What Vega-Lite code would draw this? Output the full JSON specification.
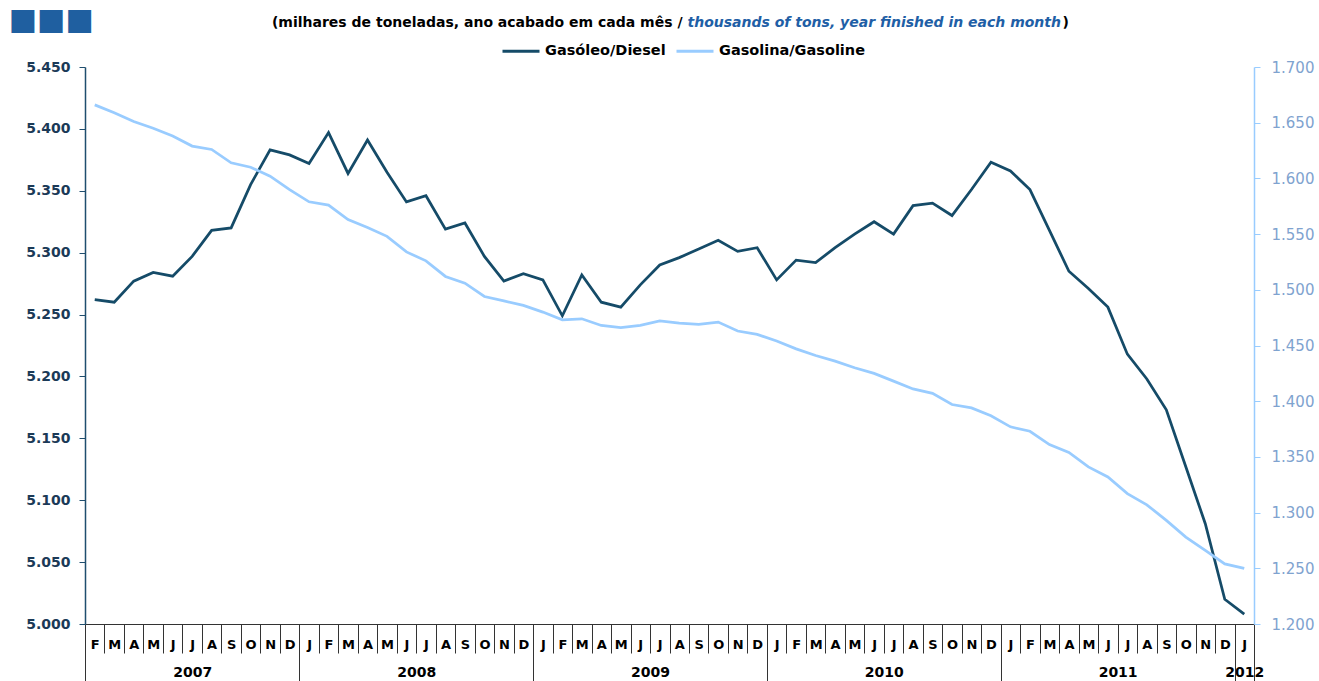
{
  "$schema": "https://vega.github.io/schema/vega-lite/v6.json",
  "width": 1169,
  "height": 557,
  "autosize": "none",
  "padding": {"left": 85, "top": 67, "right": 65, "bottom": 57},
  "background": "white",
  "config": {
    "view": {"stroke": null},
    "font": "DejaVu Sans",
    "locale": {"number": {"decimal": ",", "thousands": ".", "grouping": [3], "currency": ["", " €"]}}
  },
  "data": {
    "values": [
      {"date": "2007-02", "series": "Gasóleo/Diesel", "value": 5262},
      {"date": "2007-03", "series": "Gasóleo/Diesel", "value": 5260},
      {"date": "2007-04", "series": "Gasóleo/Diesel", "value": 5277},
      {"date": "2007-05", "series": "Gasóleo/Diesel", "value": 5284},
      {"date": "2007-06", "series": "Gasóleo/Diesel", "value": 5281},
      {"date": "2007-07", "series": "Gasóleo/Diesel", "value": 5297},
      {"date": "2007-08", "series": "Gasóleo/Diesel", "value": 5318},
      {"date": "2007-09", "series": "Gasóleo/Diesel", "value": 5320},
      {"date": "2007-10", "series": "Gasóleo/Diesel", "value": 5355},
      {"date": "2007-11", "series": "Gasóleo/Diesel", "value": 5383},
      {"date": "2007-12", "series": "Gasóleo/Diesel", "value": 5379},
      {"date": "2008-01", "series": "Gasóleo/Diesel", "value": 5372},
      {"date": "2008-02", "series": "Gasóleo/Diesel", "value": 5397},
      {"date": "2008-03", "series": "Gasóleo/Diesel", "value": 5364},
      {"date": "2008-04", "series": "Gasóleo/Diesel", "value": 5391},
      {"date": "2008-05", "series": "Gasóleo/Diesel", "value": 5365},
      {"date": "2008-06", "series": "Gasóleo/Diesel", "value": 5341},
      {"date": "2008-07", "series": "Gasóleo/Diesel", "value": 5346},
      {"date": "2008-08", "series": "Gasóleo/Diesel", "value": 5319},
      {"date": "2008-09", "series": "Gasóleo/Diesel", "value": 5324},
      {"date": "2008-10", "series": "Gasóleo/Diesel", "value": 5297},
      {"date": "2008-11", "series": "Gasóleo/Diesel", "value": 5277},
      {"date": "2008-12", "series": "Gasóleo/Diesel", "value": 5283},
      {"date": "2009-01", "series": "Gasóleo/Diesel", "value": 5278},
      {"date": "2009-02", "series": "Gasóleo/Diesel", "value": 5249},
      {"date": "2009-03", "series": "Gasóleo/Diesel", "value": 5282},
      {"date": "2009-04", "series": "Gasóleo/Diesel", "value": 5260},
      {"date": "2009-05", "series": "Gasóleo/Diesel", "value": 5256},
      {"date": "2009-06", "series": "Gasóleo/Diesel", "value": 5274},
      {"date": "2009-07", "series": "Gasóleo/Diesel", "value": 5290},
      {"date": "2009-08", "series": "Gasóleo/Diesel", "value": 5296},
      {"date": "2009-09", "series": "Gasóleo/Diesel", "value": 5303},
      {"date": "2009-10", "series": "Gasóleo/Diesel", "value": 5310},
      {"date": "2009-11", "series": "Gasóleo/Diesel", "value": 5301},
      {"date": "2009-12", "series": "Gasóleo/Diesel", "value": 5304},
      {"date": "2010-01", "series": "Gasóleo/Diesel", "value": 5278},
      {"date": "2010-02", "series": "Gasóleo/Diesel", "value": 5294},
      {"date": "2010-03", "series": "Gasóleo/Diesel", "value": 5292},
      {"date": "2010-04", "series": "Gasóleo/Diesel", "value": 5304},
      {"date": "2010-05", "series": "Gasóleo/Diesel", "value": 5315},
      {"date": "2010-06", "series": "Gasóleo/Diesel", "value": 5325},
      {"date": "2010-07", "series": "Gasóleo/Diesel", "value": 5315},
      {"date": "2010-08", "series": "Gasóleo/Diesel", "value": 5338},
      {"date": "2010-09", "series": "Gasóleo/Diesel", "value": 5340},
      {"date": "2010-10", "series": "Gasóleo/Diesel", "value": 5330},
      {"date": "2010-11", "series": "Gasóleo/Diesel", "value": 5351},
      {"date": "2010-12", "series": "Gasóleo/Diesel", "value": 5373},
      {"date": "2011-01", "series": "Gasóleo/Diesel", "value": 5366},
      {"date": "2011-02", "series": "Gasóleo/Diesel", "value": 5351},
      {"date": "2011-03", "series": "Gasóleo/Diesel", "value": 5318},
      {"date": "2011-04", "series": "Gasóleo/Diesel", "value": 5285},
      {"date": "2011-05", "series": "Gasóleo/Diesel", "value": 5271},
      {"date": "2011-06", "series": "Gasóleo/Diesel", "value": 5256},
      {"date": "2011-07", "series": "Gasóleo/Diesel", "value": 5218},
      {"date": "2011-08", "series": "Gasóleo/Diesel", "value": 5198},
      {"date": "2011-09", "series": "Gasóleo/Diesel", "value": 5173},
      {"date": "2011-10", "series": "Gasóleo/Diesel", "value": 5127},
      {"date": "2011-11", "series": "Gasóleo/Diesel", "value": 5081},
      {"date": "2011-12", "series": "Gasóleo/Diesel", "value": 5020},
      {"date": "2012-01", "series": "Gasóleo/Diesel", "value": 5008},
      {"date": "2007-02", "series": "Gasolina/Gasoline", "value": 1666},
      {"date": "2007-03", "series": "Gasolina/Gasoline", "value": 1659},
      {"date": "2007-04", "series": "Gasolina/Gasoline", "value": 1651},
      {"date": "2007-05", "series": "Gasolina/Gasoline", "value": 1645},
      {"date": "2007-06", "series": "Gasolina/Gasoline", "value": 1638},
      {"date": "2007-07", "series": "Gasolina/Gasoline", "value": 1629},
      {"date": "2007-08", "series": "Gasolina/Gasoline", "value": 1626},
      {"date": "2007-09", "series": "Gasolina/Gasoline", "value": 1614},
      {"date": "2007-10", "series": "Gasolina/Gasoline", "value": 1610},
      {"date": "2007-11", "series": "Gasolina/Gasoline", "value": 1602},
      {"date": "2007-12", "series": "Gasolina/Gasoline", "value": 1590},
      {"date": "2008-01", "series": "Gasolina/Gasoline", "value": 1579},
      {"date": "2008-02", "series": "Gasolina/Gasoline", "value": 1576},
      {"date": "2008-03", "series": "Gasolina/Gasoline", "value": 1563},
      {"date": "2008-04", "series": "Gasolina/Gasoline", "value": 1556},
      {"date": "2008-05", "series": "Gasolina/Gasoline", "value": 1548},
      {"date": "2008-06", "series": "Gasolina/Gasoline", "value": 1534},
      {"date": "2008-07", "series": "Gasolina/Gasoline", "value": 1526},
      {"date": "2008-08", "series": "Gasolina/Gasoline", "value": 1512},
      {"date": "2008-09", "series": "Gasolina/Gasoline", "value": 1506},
      {"date": "2008-10", "series": "Gasolina/Gasoline", "value": 1494},
      {"date": "2008-11", "series": "Gasolina/Gasoline", "value": 1490},
      {"date": "2008-12", "series": "Gasolina/Gasoline", "value": 1486},
      {"date": "2009-01", "series": "Gasolina/Gasoline", "value": 1480},
      {"date": "2009-02", "series": "Gasolina/Gasoline", "value": 1473},
      {"date": "2009-03", "series": "Gasolina/Gasoline", "value": 1474},
      {"date": "2009-04", "series": "Gasolina/Gasoline", "value": 1468},
      {"date": "2009-05", "series": "Gasolina/Gasoline", "value": 1466},
      {"date": "2009-06", "series": "Gasolina/Gasoline", "value": 1468},
      {"date": "2009-07", "series": "Gasolina/Gasoline", "value": 1472},
      {"date": "2009-08", "series": "Gasolina/Gasoline", "value": 1470},
      {"date": "2009-09", "series": "Gasolina/Gasoline", "value": 1469},
      {"date": "2009-10", "series": "Gasolina/Gasoline", "value": 1471},
      {"date": "2009-11", "series": "Gasolina/Gasoline", "value": 1463},
      {"date": "2009-12", "series": "Gasolina/Gasoline", "value": 1460},
      {"date": "2010-01", "series": "Gasolina/Gasoline", "value": 1454},
      {"date": "2010-02", "series": "Gasolina/Gasoline", "value": 1447},
      {"date": "2010-03", "series": "Gasolina/Gasoline", "value": 1441},
      {"date": "2010-04", "series": "Gasolina/Gasoline", "value": 1436},
      {"date": "2010-05", "series": "Gasolina/Gasoline", "value": 1430},
      {"date": "2010-06", "series": "Gasolina/Gasoline", "value": 1425},
      {"date": "2010-07", "series": "Gasolina/Gasoline", "value": 1418},
      {"date": "2010-08", "series": "Gasolina/Gasoline", "value": 1411},
      {"date": "2010-09", "series": "Gasolina/Gasoline", "value": 1407},
      {"date": "2010-10", "series": "Gasolina/Gasoline", "value": 1397},
      {"date": "2010-11", "series": "Gasolina/Gasoline", "value": 1394},
      {"date": "2010-12", "series": "Gasolina/Gasoline", "value": 1387},
      {"date": "2011-01", "series": "Gasolina/Gasoline", "value": 1377},
      {"date": "2011-02", "series": "Gasolina/Gasoline", "value": 1373},
      {"date": "2011-03", "series": "Gasolina/Gasoline", "value": 1361},
      {"date": "2011-04", "series": "Gasolina/Gasoline", "value": 1354},
      {"date": "2011-05", "series": "Gasolina/Gasoline", "value": 1341},
      {"date": "2011-06", "series": "Gasolina/Gasoline", "value": 1332},
      {"date": "2011-07", "series": "Gasolina/Gasoline", "value": 1317},
      {"date": "2011-08", "series": "Gasolina/Gasoline", "value": 1307},
      {"date": "2011-09", "series": "Gasolina/Gasoline", "value": 1293},
      {"date": "2011-10", "series": "Gasolina/Gasoline", "value": 1278},
      {"date": "2011-11", "series": "Gasolina/Gasoline", "value": 1266},
      {"date": "2011-12", "series": "Gasolina/Gasoline", "value": 1254},
      {"date": "2012-01", "series": "Gasolina/Gasoline", "value": 1250}
    ]
  },
  "resolve": {"scale": {"y": "independent"}, "axis": {"x": "independent", "y": "independent"}},
  "layer": [
    {
      "transform": [{"filter": "datum.series == 'Gasóleo/Diesel'"}],
      "mark": {"type": "line", "strokeWidth": 2.75},
      "encoding": {
        "x": {
          "field": "date", "type": "ordinal",
          "scale": {"type": "point", "padding": 0.5},
          "axis": {
            "orient": "bottom", "title": null, "grid": false,
            "labelExpr": "substring('JFMAMJJASOND', toNumber(substring(datum.value, 5, 7)) - 1, toNumber(substring(datum.value, 5, 7)))",
            "labelAngle": 0, "labelFont": "DejaVu Sans", "labelFontWeight": "bold", "labelFontSize": 13,
            "labelColor": "#000000", "labelBaseline": "middle", "labelPadding": -9,
            "labelOffset": 9.74, "tickOffset": -9.74, "tickSize": 29, "tickColor": "#333333", "tickWidth": 1,
            "domainColor": "#333333", "domainWidth": 1, "labelOverlap": false
          }
        },
        "y": {
          "field": "value", "type": "quantitative",
          "scale": {"domain": [5000, 5450], "nice": false, "zero": false},
          "axis": {
            "orient": "left", "title": null, "grid": false,
            "values": [5000, 5050, 5100, 5150, 5200, 5250, 5300, 5350, 5400, 5450],
            "format": ",.0f", "domainColor": "#1f4e6e", "domainWidth": 1.5, "tickColor": "#1f4e6e", "tickSize": 6,
            "labelColor": "#1b3a57", "labelFont": "DejaVu Sans", "labelFontWeight": "bold", "labelFontSize": 14, "labelPadding": 9
          }
        },
        "color": {
          "field": "series", "type": "nominal",
          "scale": {"domain": ["Gasóleo/Diesel", "Gasolina/Gasoline"], "range": ["#154b68", "#99ccff"]},
          "legend": {
            "orient": "none", "legendX": 416, "legendY": -36, "direction": "horizontal", "title": null,
            "symbolType": "stroke", "symbolSize": 1369, "symbolStrokeWidth": 3,
            "labelFont": "DejaVu Sans", "labelFontSize": 14.5, "labelFontWeight": "bold", "labelColor": "#000000",
            "labelOffset": 4, "columnPadding": 4, "padding": 0
          }
        }
      }
    },
    {
      "transform": [{"filter": "datum.series == 'Gasolina/Gasoline'"}],
      "mark": {"type": "line", "strokeWidth": 2.75},
      "encoding": {
        "x": {
          "field": "date", "type": "ordinal",
          "scale": {"type": "point", "padding": 0.5},
          "axis": {
            "orient": "bottom", "title": null, "grid": false,
            "values": ["2007-07", "2008-07", "2009-07", "2010-07", "2011-07", "2012-01"],
            "labelExpr": "substring(datum.value, 0, 4)",
            "ticks": false, "domain": false, "labelPadding": 48, "labelBaseline": "middle", "labelAngle": 0,
            "labelOffset": {"condition": {"test": "datum.value == '2007-07' || datum.value == '2012-01'", "value": 0}, "value": -9.74},
            "labelFont": "DejaVu Sans", "labelFontWeight": "bold", "labelFontSize": 14, "labelColor": "#000000", "labelOverlap": false
          }
        },
        "y": {
          "field": "value", "type": "quantitative",
          "scale": {"domain": [1200, 1700], "nice": false, "zero": false},
          "axis": {
            "orient": "right", "title": null, "grid": false,
            "values": [1200, 1250, 1300, 1350, 1400, 1450, 1500, 1550, 1600, 1650, 1700],
            "format": ",.0f", "domainColor": "#99ccff", "domainWidth": 1.5, "tickColor": "#99ccff", "tickSize": 6,
            "labelColor": "#7fa3cf", "labelFont": "DejaVu Sans", "labelFontSize": 15, "labelPadding": 11
          }
        },
        "color": {"field": "series", "type": "nominal"}
      }
    },
    {
      "transform": [{"filter": "false"}],
      "mark": "rule",
      "encoding": {
        "x": {
          "field": "date", "type": "ordinal", "scale": {"type": "point", "padding": 0.5},
          "axis": {
            "orient": "bottom", "title": null, "grid": false, "labels": false, "domain": false,
            "values": ["2007-02", "2008-01", "2009-01", "2010-01", "2011-01", "2012-01"],
            "tickSize": 57, "tickOffset": -9.74, "tickColor": "#333333", "tickWidth": 1
          }
        }
      }
    },
    {
      "transform": [{"filter": "false"}],
      "mark": "rule",
      "encoding": {
        "x": {
          "field": "date", "type": "ordinal", "scale": {"type": "point", "padding": 0.5},
          "axis": {
            "orient": "bottom", "title": null, "grid": false, "labels": false, "domain": false,
            "values": ["2012-01"],
            "tickSize": 57, "tickOffset": 9.74, "tickColor": "#333333", "tickWidth": 1
          }
        }
      }
    },
    {
      "transform": [{"filter": "false"}],
      "mark": "rule",
      "encoding": {
        "x": {
          "field": "date", "type": "ordinal", "scale": {"type": "point", "padding": 0.5},
          "axis": {
            "orient": "top", "grid": false, "labels": false, "ticks": false, "domain": false, "values": [],
            "title": "(milhares de toneladas, ano acabado em cada mês /",
            "titleX": 597, "titleY": -45, "titleAlign": "right", "titleBaseline": "middle", "titleAngle": 0,
            "titleFont": "DejaVu Sans", "titleFontSize": 14, "titleFontWeight": "bold", "titleColor": "#000000"
          }
        }
      }
    },
    {
      "transform": [{"filter": "false"}],
      "mark": "rule",
      "encoding": {
        "x": {
          "field": "date", "type": "ordinal", "scale": {"type": "point", "padding": 0.5},
          "axis": {
            "orient": "top", "grid": false, "labels": false, "ticks": false, "domain": false, "values": [],
            "title": "thousands of tons, year finished in each month",
            "titleX": 602, "titleY": -45, "titleAlign": "left", "titleBaseline": "middle", "titleAngle": 0,
            "titleFont": "DejaVu Sans", "titleFontSize": 14, "titleFontStyle": "italic", "titleFontWeight": "bold",
            "titleColor": "#1f5fa6"
          }
        }
      }
    },
    {
      "transform": [{"filter": "false"}],
      "mark": "rule",
      "encoding": {
        "x": {
          "field": "date", "type": "ordinal", "scale": {"type": "point", "padding": 0.5},
          "axis": {
            "orient": "top", "grid": false, "labels": false, "ticks": false, "domain": false, "values": [],
            "title": ")",
            "titleX": 977, "titleY": -45, "titleAlign": "left", "titleBaseline": "middle", "titleAngle": 0,
            "titleFont": "DejaVu Sans", "titleFontSize": 14, "titleFontWeight": "bold", "titleColor": "#000000"
          }
        }
      }
    },
    {
      "transform": [{"filter": "false"}],
      "mark": "rule",
      "encoding": {
        "x": {
          "field": "date", "type": "ordinal", "scale": {"type": "point", "padding": 0.5},
          "axis": {
            "orient": "top", "grid": false, "labels": false, "ticks": false, "domain": false, "values": [],
            "title": "■■■",
            "titleX": -77, "titleY": -48, "titleAlign": "left", "titleBaseline": "middle", "titleAngle": 0,
            "titleFont": "DejaVu Sans", "titleFontSize": 30, "titleColor": "#1f5fa0"
          }
        }
      }
    }
  ]
}
